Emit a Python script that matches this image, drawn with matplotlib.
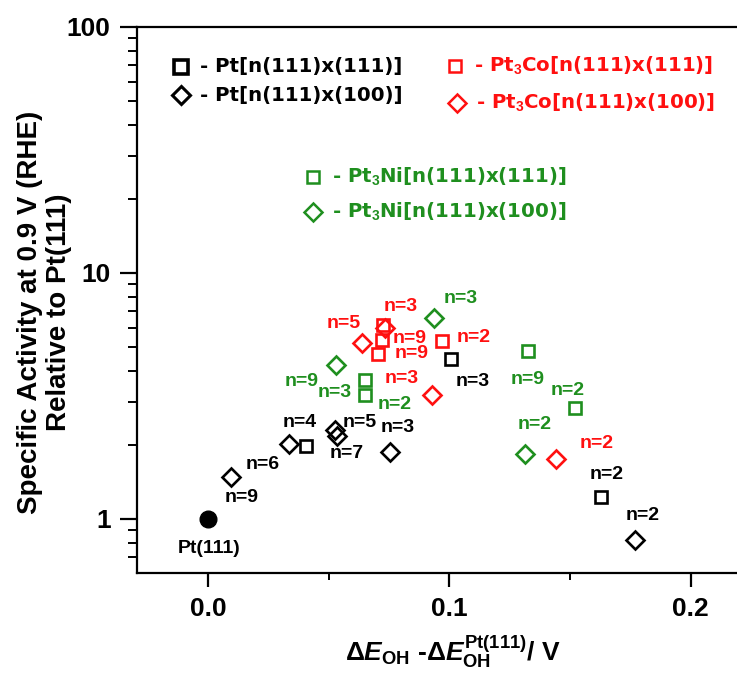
import numpy as np
from matplotlib import pyplot as plt
from matplotlib.ticker import LogLocator, NullFormatter, FixedLocator

plt.rcParams['font.family'] = ['Liberation Sans', 'DejaVu Sans']
plt.rcParams['font.weight'] = 'bold'
plt.rcParams['mathtext.fontset'] = 'custom'
plt.rcParams['mathtext.rm'] = 'Liberation Sans:bold'
plt.rcParams['mathtext.bf'] = 'Liberation Sans:bold'
plt.rcParams['mathtext.it'] = 'Liberation Sans:bold:italic'

# values
pt111_x = [0.0]
pt111_y = [1.0]

pt_sq_x = [0.0405, 0.1008, 0.1630]
pt_sq_y = [1.98, 4.47, 1.23]
pt_sq_n = ['n=4', 'n=3', 'n=2']

pt_di_x = [0.0094, 0.0334, 0.0525, 0.0533, 0.0753, 0.1768]
pt_di_y = [1.48, 2.02, 2.30, 2.17, 1.87, 0.822]
pt_di_n = ['n=9', 'n=6', 'n=5', 'n=7', 'n=3', 'n=2']

co_sq_x = [0.0724, 0.0720, 0.0703, 0.0971]
co_sq_y = [6.15, 5.34, 4.69, 5.29]
co_sq_n = ['n=3', 'n=9', 'n=9', 'n=2']

co_di_x = [0.0732, 0.0636, 0.0926, 0.1441]
co_di_y = [5.97, 5.18, 3.19, 1.75]
co_di_n = ['', 'n=5', 'n=3', 'n=2']

ni_sq_x = [0.0649, 0.0649, 0.1326, 0.1519]
ni_sq_y = [3.67, 3.19, 4.82, 2.82]
ni_sq_n = ['n=3', 'n=2', 'n=9', 'n=2']

ni_di_x = [0.0936, 0.0529, 0.1312]
ni_di_y = [6.54, 4.23, 1.83]
ni_di_n = ['n=3', 'n=9', 'n=2']

# label offsets in pixels (label centre relative to marker)
pt_sq_off = [(-6, 23), (21, -23), (5, 22)]
pt_di_off = [(11, -20), (-26, -21), (25, 7), (10, -17), (8, 25), (8, 24)]
co_sq_off = [(18, 18), (28, 2), (34, 0), (31, 4)]
co_di_off = [(0, 0), (-18, 20), (-30, 17), (41, 16)]
ni_sq_off = [(-30, -12), (30, -9), (0, -29), (-7, 18)]
ni_di_off = [(27, 20), (-34, -17), (10, 30)]

BLACK = '#000000'
RED = '#ff1010'
GREEN = '#1f8f1f'

fig = plt.figure(figsize=(7.37, 6.73), dpi=100)
ax = fig.add_axes([137/737, 1-573/673, 600/737, 546/673])

def series(x, y, marker, color, labels, offs, ms=9):
    ax.plot(x, y, linestyle='none', marker=marker, ms=ms, mfc='none',
            mec=color, mew=1.9, clip_on=False)
    for xi, yi, lab, off in zip(x, y, labels, offs):
        if lab:
            ax.annotate(lab, (xi, yi), xytext=off, textcoords='offset pixels',
                        ha='center', va='center', color=color, fontsize=14,
                        fontweight='bold')

series(pt_sq_x, pt_sq_y, 's', BLACK, pt_sq_n, pt_sq_off, ms=9)
series(pt_di_x, pt_di_y, 'D', BLACK, pt_di_n, pt_di_off, ms=9)
series(co_sq_x, co_sq_y, 's', RED, co_sq_n, co_sq_off, ms=9)
series(co_di_x, co_di_y, 'D', RED, co_di_n, co_di_off, ms=9)
series(ni_sq_x, ni_sq_y, 's', GREEN, ni_sq_n, ni_sq_off, ms=9)
series(ni_di_x, ni_di_y, 'D', GREEN, ni_di_n, ni_di_off, ms=9)

ax.plot(pt111_x, pt111_y, 'o', color=BLACK, ms=12)
ax.annotate('Pt(111)', (pt111_x[0], pt111_y[0]), xytext=(1, -30),
            textcoords='offset pixels', ha='center', va='center',
            fontsize=14, fontweight='bold')

# legend drawn by hand like the original
leg = [
    (0.073, 0.927, 's', BLACK, 10, 2.6, '- Pt[n(111)x(111)]'),
    (0.073, 0.875, 'D', BLACK, 9, 2.2, '- Pt[n(111)x(100)]'),
    (0.530, 0.928, 's', RED, 8, 1.8, '- Pt$_3$Co[n(111)x(111)]'),
    (0.533, 0.861, 'D', RED, 9, 1.8, '- Pt$_3$Co[n(111)x(100)]'),
    (0.293, 0.725, 's', GREEN, 8, 1.8, '- Pt$_3$Ni[n(111)x(111)]'),
    (0.293, 0.661, 'D', GREEN, 9, 1.8, '- Pt$_3$Ni[n(111)x(100)]'),
]
for lx, ly, m, c, ms, mew, txt in leg:
    ax.plot([lx], [ly], marker=m, ms=ms, mfc='none', mec=c, mew=mew,
            transform=ax.transAxes, linestyle='none')
    ax.text(lx + 0.032, ly, txt, transform=ax.transAxes, color=c,
            fontsize=14.2, fontweight='bold', va='center', ha='left',
            family=['DejaVu Sans'])

ax.set_yscale('log')
ax.set_ylim(0.603, 100)
ax.set_xlim(-0.0295, 0.2192)
ax.yaxis.set_major_locator(FixedLocator([1, 10, 100]))
ax.set_yticklabels(['1', '10', '100'])
ax.yaxis.set_minor_locator(LogLocator(base=10, subs=np.arange(2, 10)))
ax.yaxis.set_minor_formatter(NullFormatter())
ax.set_xticks([0.0, 0.1, 0.2])
ax.set_xticklabels(['0.0', '0.1', '0.2'])
ax.set_xticks([0.05, 0.15], minor=True)

ax.tick_params(axis='both', which='major', direction='out', width=1.6,
               labelsize=19, pad=7)
ax.tick_params(axis='y', which='major', length=12)
ax.tick_params(axis='x', which='major', length=10)
ax.tick_params(axis='y', which='minor', direction='out', width=1.4, length=6.5)
ax.tick_params(axis='x', which='minor', direction='out', width=1.4, length=5)
for s in ['left', 'bottom', 'top']:
    ax.spines[s].set_linewidth(1.6)
ax.spines['right'].set_visible(False)

fig.text(45/737, 1-312/673, 'Specific Activity at 0.9 V (RHE)\nRelative to Pt(111)',
         rotation=90, ha='center', va='center', fontsize=20,
         fontweight='bold', linespacing=1.15)
fig.text(453/737, 12/673,
         r'$\Delta E_{\rm OH}$ -$\Delta E_{\rm OH}^{\rm Pt(111)}$/ V',
         ha='center', va='baseline', fontsize=19, fontweight='bold')

plt.savefig('out.png', dpi=100)
